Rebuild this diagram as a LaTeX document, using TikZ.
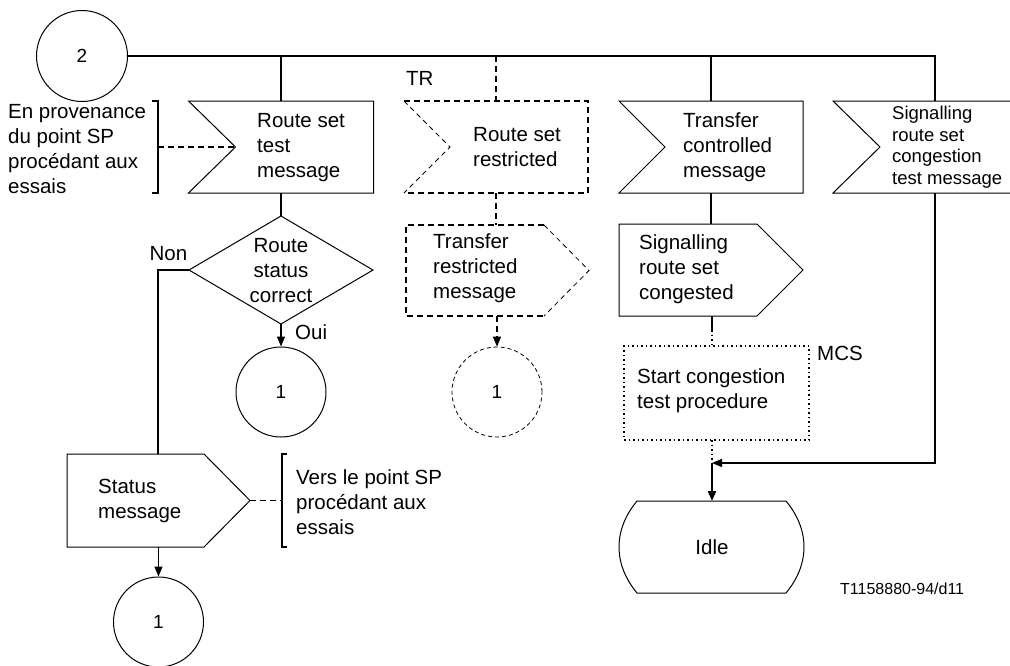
\documentclass[tikz,border=0pt]{standalone}
\usepackage{fontspec}
\setmainfont{Liberation Sans}
\usetikzlibrary{arrows.meta,calc}
\begin{document}
\begin{tikzpicture}[x=1pt,y=-1pt,
  txt/.style={font=\fontsize{20.5}{25}\selectfont, inner sep=0pt, align=left},
  stxt/.style={font=\fontsize{18.5}{21.5}\selectfont, inner sep=0pt, align=left},
  area/.style={draw=none, inner sep=0pt, outer sep=0pt},
  shp/.style={line width=1pt, line join=miter},
  conn/.style={line width=1.3pt},
  dsh/.style={line width=1.5pt, dash pattern=on 6pt off 4pt},
  dshthin/.style={line width=0.8pt, dash pattern=on 5pt off 4pt},
  dotl/.style={line width=1.5pt, dash pattern=on 1.5pt off 3pt},
  brk/.style={line width=1.6pt},
  tip/.style={-{Triangle[length=10pt,width=8pt]}},
  conncirc/.style={draw, circle, line width=1pt, minimum size=90pt, inner sep=0pt, font=\fontsize{19}{22}\selectfont}
]
\useasboundingbox (0,0) rectangle (1010,665);

% start connector
\node[conncirc, minimum size=91pt] (c2) at (82,56) {2};
\coordinate (tc) at (935,56);

% column 1
\node[area, minimum width=185pt, minimum height=92pt] (b1) at (281,147) {};
\coordinate (b1n) at ($(b1.west)+(47,0)$);
\draw[shp] (b1.north west) -- (b1.north east) -- (b1.south east) -- (b1.south west) -- (b1n) -- cycle;
\node[txt, anchor=west] (b1t) at (257,147.5) {Route set\\test\\message};

\node[txt, anchor=west] (enp) at (8,149.5) {En provenance\\du point SP\\procédant aux\\essais};
\coordinate (br1) at (158,147);
\draw[brk] (152,101) -- (158,101) -- (158,193) -- (152,193);
\draw[dsh] (br1) -- (b1n);

\node[area, minimum width=184pt, minimum height=108pt] (d1) at (281,270) {};
\draw[shp] (d1.north) -- (d1.east) -- (d1.south) -- (d1.west) -- cycle;
\node[txt, align=center] (d1t) at (281,270.5) {Route\\status\\correct};
\node[txt] (non) at (168.5,254) {Non};
\node[txt, anchor=west] (oui) at (295,332) {Oui};

\node[conncirc] (c1a) at (281,392) {1};

\node[area, minimum width=183pt, minimum height=93pt] (st) at (158.5,500.5) {};
\draw[shp] (st.north west) -- ($(st.north east)+(-46,0)$) -- (st.east) -- ($(st.south east)+(-46,0)$) -- (st.south west) -- cycle;
\node[txt, anchor=west] (stt) at (98,500.5) {Status\\message};
\coordinate (br2) at (282,500.5);
\draw[brk] (287,454) -- (282,454) -- (282,547) -- (287,547);
\draw[dsh, line width=1.3pt] (st.east) -- (br2);
\node[txt, anchor=west] (vers) at (296,502) {Vers le point SP\\procédant aux\\essais};

\node[conncirc] (c1c) at (158.5,622) {1};

\coordinate (nc) at (158,270);
\draw[conn] (b1.north |- c2.east) -- (b1.north);
\draw[conn] (b1.south) -- (d1.north);
\draw[conn, tip] (d1.south) -- (c1a.north);
\draw[conn] (d1.west) -- (nc) -- (nc |- st.north);
\draw[conn, tip] (st.south) -- (c1c.north);

% column 2
\node[txt, anchor=west] (tr) at (406,78) {TR};
\node[area, minimum width=184pt, minimum height=92pt] (b2) at (496,147) {};
\coordinate (b2n) at ($(b2.west)+(46,0)$);
\draw[dsh] (b2.north west) -- (b2.north east) -- (b2.south east) -- (b2.south west);
\draw[dshthin] (b2.north west) -- (b2n) -- (b2.south west);
\node[txt, anchor=west] (b2t) at (473,147) {Route set\\restricted};

\node[area, minimum width=183pt, minimum height=91pt] (trm) at (497.5,270.5) {};
\coordinate (trmA) at ($(trm.north east)+(-45,0)$);
\coordinate (trmB) at ($(trm.south east)+(-45,0)$);
\draw[dsh] (trmA) -- (trm.north west) -- (trm.south west) -- (trmB);
\draw[dshthin] (trmA) -- (trm.east) -- (trmB);
\node[txt, anchor=west] (trmt) at (433,268.5) {Transfer\\restricted\\message};

\node[conncirc, line width=0.8pt, dash pattern=on 4pt off 3pt] (c1b) at (497,392) {1};

\draw[dsh] (b2.north |- c2.east) -- (b2.north);
\draw[dsh] (b2.south) -- (b2.south |- trm.north);
\draw[dsh, tip] (c1b.north |- trm.south) -- (c1b.north);

% column 3
\node[area, minimum width=184pt, minimum height=92pt] (b3) at (711,147) {};
\coordinate (b3n) at ($(b3.west)+(46,0)$);
\draw[shp] (b3.north west) -- (b3.north east) -- (b3.south east) -- (b3.south west) -- (b3n) -- cycle;
\node[txt, anchor=west] (b3t) at (683,147) {Transfer\\controlled\\message};

\node[area, minimum width=184pt, minimum height=92pt] (sc) at (711,270) {};
\draw[shp] (sc.north west) -- ($(sc.north east)+(-46,0)$) -- (sc.east) -- ($(sc.south east)+(-46,0)$) -- (sc.south west) -- cycle;
\node[txt, anchor=west] (sct) at (639,269) {Signalling\\route set\\congested};

\node[area, draw, dotl, minimum width=185pt, minimum height=94pt] (mc) at (716.5,393) {};
\node[txt, anchor=west] (mct) at (637,391) {Start congestion\\test procedure};
\node[txt, anchor=west] (mcs) at (817,353) {MCS};

\node[area, minimum width=185pt, minimum height=92pt] (idle) at (711.5,547) {};
\draw[shp] (637,501) -- (786,501) .. controls (810,530) and (810,564) .. (786,593) -- (637,593) .. controls (613,564) and (613,530) .. (637,501) -- cycle;
\node[txt] (idlet) at (712,547) {Idle};

\coordinate (jn) at (712,463);
\coordinate (jr) at (935,463);
\coordinate (scd) at (712,330);

\draw[conn] (b3.north |- c2.east) -- (b3.north);
\draw[conn] (b3.south) -- (b3.south |- sc.north);
\draw[conn] (jn |- sc.south) -- (scd);
\draw[dotl] (scd) -- (jn |- mc.north);
\draw[dotl] (jn |- mc.south) -- (jn);
\draw[line width=2pt, tip] (jn) -- (jn |- idle.north);

% column 4
\node[area, minimum width=180pt, minimum height=92pt] (b4) at (923,147) {};
\coordinate (b4n) at ($(b4.west)+(47,0)$);
\draw[shp] (b4.north east) -- (b4.north west) -- (b4n) -- (b4.south west) -- (b4.south east);
\node[stxt, anchor=west] (b4t) at (892,147) {Signalling\\route set\\congestion\\test message};

\draw[conn] (c2.east) -- (tc) -- (tc |- b4.north);
\draw[conn, tip] (tc |- b4.south) -- (jr) -- (jn);

\node[font=\fontsize{16}{19}\selectfont, anchor=west, inner sep=0pt] (ref) at (840,589) {T1158880-94/d11};
\end{tikzpicture}
\end{document}
